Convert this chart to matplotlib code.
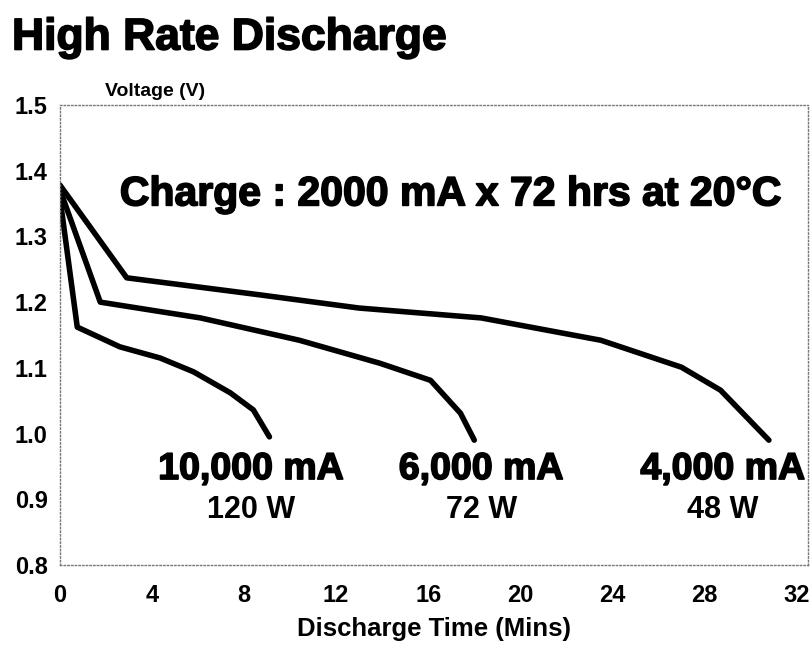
import numpy as np
import matplotlib.pyplot as plt
import matplotlib.patheffects as pe

plt.rcParams['font.family'] = ['Liberation Sans', 'DejaVu Sans']

# discharge curves (time in minutes, voltage in V)
t_4000 = [0, 2.9, 8.7, 13.0, 18.3, 23.5, 27.0, 28.7, 30.8]
v_4000 = [1.378, 1.237, 1.211, 1.191, 1.176, 1.142, 1.101, 1.066, 0.99]

t_6000 = [0, 1.75, 6.1, 10.4, 13.9, 16.1, 17.4, 18.0]
v_6000 = [1.371, 1.200, 1.176, 1.142, 1.107, 1.081, 1.031, 0.99]

t_10000 = [0, 0.75, 2.6, 4.35, 5.8, 7.4, 8.4, 9.1]
v_10000 = [1.358, 1.162, 1.132, 1.115, 1.094, 1.062, 1.036, 0.995]

current_labels = ['10,000 mA', '6,000 mA', '4,000 mA']
power_labels = ['120 W', '72 W', '48 W']
label_x = [8.3, 18.3, 28.8]

x_ticks = [0, 4, 8, 12, 16, 20, 24, 28, 32]
y_ticks = [0.8, 0.9, 1.0, 1.1, 1.2, 1.3, 1.4, 1.5]

# thicker strokes for the heavy scanned lettering
heavy = [pe.withStroke(linewidth=1.2, foreground='black')]

fig = plt.figure(figsize=(8.12, 6.5), dpi=100)
ax = fig.add_axes([60 / 812, 1 - 565 / 650, 748 / 812, 460 / 650])

for t, v in [(t_4000, v_4000), (t_6000, v_6000), (t_10000, v_10000)]:
    ax.plot(t, v, color='black', linewidth=4, solid_capstyle='round', solid_joinstyle='round')

ax.set_xlim(0, 32.5)
ax.set_ylim(0.8, 1.5)
ax.set_xticks(x_ticks)
ax.set_xticklabels([str(x) for x in x_ticks], fontsize=17, fontweight='bold')
ax.set_yticks(y_ticks)
ax.set_yticklabels(['%.1f' % y for y in y_ticks], fontsize=17, fontweight='bold')
ax.tick_params(axis='x', length=0, pad=14)
ax.tick_params(axis='y', length=0, pad=9)

# dotted frame like the scanned original
for side in ['top', 'bottom', 'left', 'right']:
    ax.spines[side].set_linestyle(':')
    ax.spines[side].set_color('#777777')
    ax.spines[side].set_linewidth(1)

ax.set_xlabel('Discharge Time (Mins)', fontsize=18.5, fontweight='bold', labelpad=7)

# rate labels under each curve
for x, c, p in zip(label_x, current_labels, power_labels):
    ax.text(x, 0.946, c, fontsize=27, fontweight='bold', ha='center', va='center',
            path_effects=heavy)
    ax.text(x, 0.884, p, fontsize=22, fontweight='bold', ha='center', va='center')

ax.text(2.6, 1.364, 'Charge : 2000 mA x 72 hrs at 20°C', fontsize=29.5,
        fontweight='bold', ha='left', va='center', path_effects=heavy)

fig.text(105 / 812, 1 - 91 / 650, 'Voltage (V)', fontsize=14, fontweight='bold', va='center')
fig.text(12 / 812, 1 - 38 / 650, 'High Rate Discharge', fontsize=32, fontweight='bold',
         va='center', path_effects=heavy)

fig.savefig('out.png', dpi=100)
